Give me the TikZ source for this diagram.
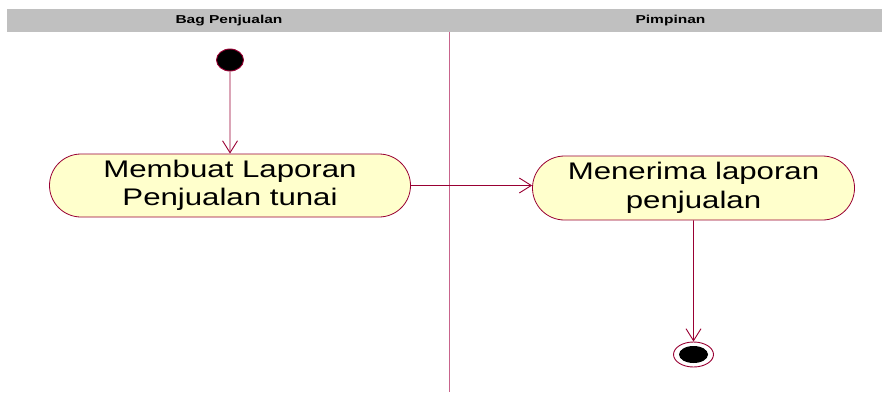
\documentclass[tikz,border=0pt]{standalone}
\usepackage{fontspec}
\setmainfont{Liberation Sans}
\newfontfamily\lanefont[FakeStretch=1.35]{Liberation Sans}
\newfontfamily\actfont[FakeStretch=1.3]{Liberation Sans}
\usetikzlibrary{arrows.meta,positioning,shapes.misc,shapes.geometric}
\definecolor{rosered}{HTML}{990033}
\definecolor{rosefill}{HTML}{FFFFCC}
\definecolor{lanegray}{HTML}{C0C0C0}
\definecolor{laneline}{HTML}{C8648C}
\tikzset{>/.tip={Straight Barb[length=12pt,width=15pt,line width=0.9pt]}}
\tikzset{act/.style={rounded rectangle,draw=rosered,fill=rosefill,line width=0.8pt,
    minimum width=361pt,minimum height=63pt,inner sep=0pt,align=center,
    font=\actfont\fontsize{24}{28.5}\selectfont}}
\tikzset{lane/.style={anchor=base,font=\lanefont\bfseries\fontsize{11.5}{12}\selectfont}}

\begin{document}
\begin{tikzpicture}[x=1pt,y=-1pt,line width=0.9pt]
        \useasboundingbox (0,0) rectangle (882,393);
        % swimlanes
        \fill[lanegray] (7,9) rectangle (882,32);
        \node(bag)[lane] at (229,24){Bag Penjualan};
        \node(pim)[lane] at (670.5,24){Pimpinan};
        \draw[laneline,line width=0.8pt] (449,32) -- (449,392);
        % activities
        \node(start)[ellipse,fill=black,draw=rosered,minimum width=27pt,minimum height=22pt,inner sep=0pt] at (230,60){};
        \node(lap)[act] at (230,185.5){Membuat Laporan\\Penjualan tunai};
        \node(terima)[act,minimum width=322pt,minimum height=64pt] at (693.5,188){Menerima laporan\\penjualan};
        \node(end)[ellipse,draw=rosered,fill=white,minimum width=40pt,minimum height=25pt,inner sep=0pt] at (693.5,354.5){};
        \node(endin)[ellipse,fill=black,minimum width=29pt,minimum height=17pt,inner sep=0pt] at (end){};
        \draw[rosered,->] (start) -- (lap);
        \draw[rosered,->] (lap.east) -- (terima.west |- lap.east);
        \draw[rosered,->] (terima) -- (end);
      \end{tikzpicture}
\end{document}
